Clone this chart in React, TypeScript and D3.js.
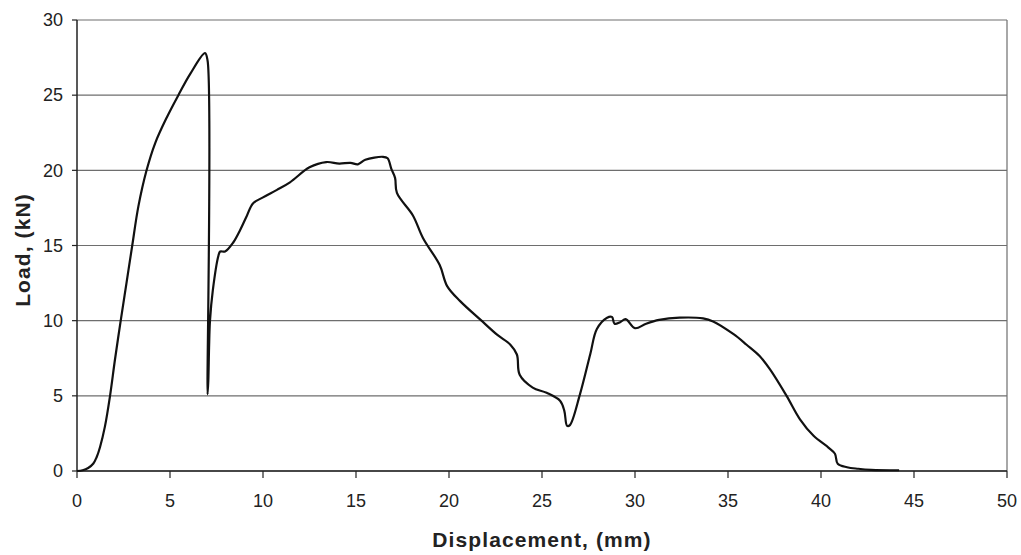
import React from "react";
import * as d3 from "d3";

// displacement (mm) / load (kN)
const disp = [
  0, 0.3, 0.6, 0.88, 1.05, 1.24, 1.5, 1.77, 2.04, 2.35, 2.66, 2.97, 3.3, 3.74, 4.2, 4.82, 5.45, 6.08, 6.88,
  7.02, 7.02, 7.06, 7.1, 7.15, 7.3, 7.6, 7.7, 7.96, 8.4, 8.76, 9.14, 9.46, 10.0, 10.75, 11.45, 12.5, 13.4, 14.1,
  14.7, 15.1, 15.5, 16.45, 16.7, 16.9, 17.1, 17.2, 18.06, 18.6, 19.5, 19.9, 20.6, 21.7, 22.6, 23.3, 23.65, 23.8,
  24.5, 25.25, 25.97, 26.2, 26.35, 26.5, 27.04, 27.6, 27.95, 28.5, 28.76, 28.9, 29.2, 29.5, 30.0, 30.6, 31.3, 32.4,
  33.66, 34.2, 35.3, 36.0, 36.7, 37.26, 38.15, 38.87, 39.6, 40.4, 40.75, 40.9, 41.4, 42.0, 42.7, 44.2,
];
const load = [
  0, 0.05, 0.2, 0.5, 0.9, 1.6, 2.95, 4.95, 7.4, 10.0, 12.5, 15.0, 17.6, 20.0, 21.8, 23.5, 25.0, 26.4, 27.8,
  27.3, 5.1, 6.0, 8.2, 10.0, 12.0, 14.3, 14.6, 14.6, 15.2, 16.0, 17.0, 17.8, 18.2, 18.7, 19.2, 20.2, 20.55, 20.45,
  20.5, 20.4, 20.7, 20.9, 20.8, 20.1, 19.5, 18.5, 17.0, 15.5, 13.7, 12.3, 11.3, 10.05, 9.05, 8.4, 7.75, 6.4,
  5.55, 5.2, 4.67, 4.0, 3.0, 3.05, 5.1, 7.8, 9.45, 10.2, 10.25, 9.8, 9.9, 10.1, 9.5, 9.8, 10.05, 10.2,
  10.15, 9.95, 9.1, 8.4, 7.65, 6.76, 5.0, 3.44, 2.34, 1.56, 1.15, 0.48, 0.25, 0.15, 0.08, 0.05,
];
const xTicks = [0, 5, 10, 15, 20, 25, 30, 35, 40, 45, 50];
const yTicks = [0, 5, 10, 15, 20, 25, 30];

const width = 1021;
const height = 555;
const margin = { left: 77, right: 14, top: 20, bottom: 84 };

export default function App() {
  const x = d3.scaleLinear().domain([0, 50]).range([margin.left, width - margin.right]);
  const y = d3.scaleLinear().domain([0, 30]).range([height - margin.bottom, margin.top]);

  const points: [number, number][] = disp.map((d, i) => [d, load[i]]);
  const line = d3
    .line<[number, number]>()
    .x((d) => x(d[0]))
    .y((d) => y(d[1]))
    .curve(d3.curveCatmullRom.alpha(0.5));

  const font = "Arial, 'Liberation Sans', Helvetica, sans-serif";

  return (
    <svg
      width={width}
      height={height}
      style={{ position: "absolute", left: 0, top: 0, background: "#fff" }}
      fontFamily={font}
    >
      {/* grid */}
      {yTicks.map((t) => (
        <line key={"g" + t} x1={x(0)} x2={x(50)} y1={y(t)} y2={y(t)} stroke="#6e6e6e" strokeWidth={1.2} />
      ))}
      <line x1={x(50)} x2={x(50)} y1={y(30)} y2={y(0)} stroke="#6e6e6e" strokeWidth={1.2} />

      {/* y axis */}
      <line x1={x(0)} x2={x(0)} y1={y(30)} y2={y(0)} stroke="#222" strokeWidth={1.5} />
      {yTicks.map((t) => (
        <g key={"y" + t}>
          <line x1={x(0) - 5} x2={x(0)} y1={y(t)} y2={y(t)} stroke="#222" strokeWidth={1.2} />
          <text x={x(0) - 14} y={y(t)} dy="0.35em" textAnchor="end" fontSize={18} fill="#222">
            {t}
          </text>
        </g>
      ))}

      {/* x axis */}
      <line x1={x(0)} x2={x(50)} y1={y(0)} y2={y(0)} stroke="#222" strokeWidth={1.5} />
      {xTicks.map((t) => (
        <g key={"x" + t}>
          <line x1={x(t)} x2={x(t)} y1={y(0)} y2={y(0) + 7} stroke="#222" strokeWidth={1.2} />
          <text x={x(t)} y={507} textAnchor="middle" fontSize={18} fill="#222">
            {t}
          </text>
        </g>
      ))}

      <path d={line(points) ?? ""} fill="none" stroke="#111" strokeWidth={2.2} strokeLinejoin="round" />

      <text x={542} y={547} textAnchor="middle" fontSize={21} letterSpacing={1.1} fontWeight="bold" fill="#222">
        Displacement, (mm)
      </text>
      <text
        transform={`translate(30,250) rotate(-90)`}
        textAnchor="middle"
        fontSize={21}
        letterSpacing={1.1}
        fontWeight="bold"
        fill="#222"
      >
        Load, (kN)
      </text>
    </svg>
  );
}
